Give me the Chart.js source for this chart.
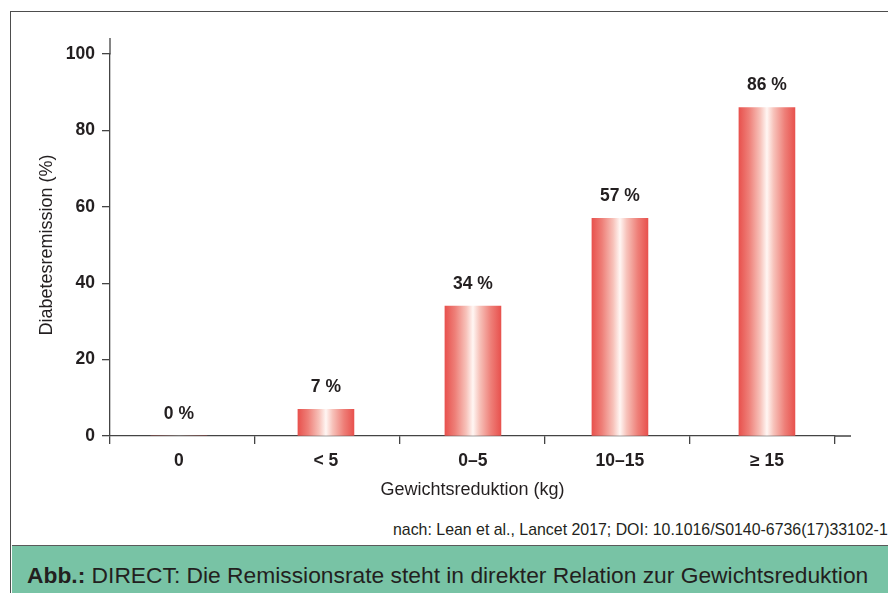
<!DOCTYPE html>
<html lang="de">
<head>
<meta charset="utf-8">
<title>DIRECT: Diabetesremission nach Gewichtsreduktion</title>
<script src="https://cdn.jsdelivr.net/npm/chart.js@4/dist/chart.umd.min.js"></script>
<style>
  html, body { margin: 0; padding: 0; background: #ffffff; overflow: hidden; }
  body { width: 888px; height: 593px; position: relative; font-family: "Liberation Sans", Arial, sans-serif; }
  #frame { position: absolute; left: 10px; top: 11px; width: 900px; height: 600px;
           border-top: 1.5px solid #4d4d4d; border-left: 1.5px solid #4d4d4d; box-sizing: border-box; }
  #band { position: absolute; left: 11.5px; top: 545px; width: 900px; height: 60px;
          background: #78c3a5; border-top: 1.5px solid #5a5a5a; box-sizing: border-box; }
  #source { position: absolute; left: 393px; top: 521.5px; font-size: 15.9px; line-height: 1; color: #231f20; white-space: nowrap; }
  #caption { position: absolute; left: 27px; top: 564px; font-size: 22.8px; line-height: 1; color: #231f20; white-space: nowrap; }
  #caption b { font-weight: bold; }
  #chart { position: absolute; left: 0; top: 0; }
</style>
</head>
<body>
<div id="frame"></div>
<div id="band"></div>
<div id="source">nach: Lean et al., Lancet 2017; DOI: 10.1016/S0140-6736(17)33102-1</div>
<div id="caption"><b>Abb.:</b> DIRECT: Die Remissionsrate steht in direkter Relation zur Gewichtsreduktion</div>
<canvas id="chart" width="888" height="593"></canvas>
<script>
// Weight-loss groups (kg) and the share of patients in remission (%)
const categories = ['0', '< 5', '0–5', '10–15', '≥ 15'];
const remission = [0, 7, 34, 57, 86];
const yTickValues = [0, 20, 40, 60, 80, 100];

const FONT = '"Liberation Sans", Arial, sans-serif';
const INK = '#231f20';
const AXIS = '#444444';
const AXIS_WIDTH = 1.3;
const AXIS_OVERHANG = 16;
const BAR_WIDTH = 56;
const BAR_RED = '#e8524e';

Chart.defaults.font.family = FONT;
Chart.defaults.color = INK;

// Cylinder-like shading: red at the edges, white in the middle
function shade(c, left, right) {
  const g = c.createLinearGradient(left, 0, right, 0);
  g.addColorStop(0.00, BAR_RED);
  g.addColorStop(0.18, '#ee7f78');
  g.addColorStop(0.38, '#f7c2ba');
  g.addColorStop(0.50, '#fff6f3');
  g.addColorStop(0.62, '#f7c2ba');
  g.addColorStop(0.82, '#ee7f78');
  g.addColorStop(1.00, BAR_RED);
  return g;
}

function barGradient(ctx) {
  const chart = ctx.chart;
  const xs = chart.scales.x;
  if (!xs || ctx.type !== 'data') return BAR_RED;
  const cx = xs.getPixelForValue(ctx.dataIndex);
  if (!isFinite(cx)) return BAR_RED;
  return shade(chart.ctx, cx - BAR_WIDTH / 2, cx + BAR_WIDTH / 2);
}

// Percent labels above each bar
const valueLabels = {
  id: 'valueLabels',
  afterDatasetsDraw(chart) {
    const meta = chart.getDatasetMeta(0);
    const c = chart.ctx;
    c.save();
    c.font = 'bold 17.5px ' + FONT;
    c.fillStyle = INK;
    c.textAlign = 'center';
    c.textBaseline = 'middle';
    meta.data.forEach((bar, i) => {
      c.fillText(remission[i] + ' %', bar.x, bar.y - 22);
    });
    c.restore();
  }
};

// Both axis lines run a little past the last tick
const axisOverhang = {
  id: 'axisOverhang',
  afterDraw(chart) {
    const { left, top, right, bottom } = chart.chartArea;
    const c = chart.ctx;
    c.save();
    c.strokeStyle = AXIS;
    c.lineWidth = AXIS_WIDTH;
    c.beginPath();
    c.moveTo(left, top + 0.5);
    c.lineTo(left, top - AXIS_OVERHANG);
    c.moveTo(right - 0.5, bottom);
    c.lineTo(right + AXIS_OVERHANG, bottom);
    c.stroke();
    c.restore();
  }
};

new Chart(document.getElementById('chart'), {
  type: 'bar',
  data: {
    datasets: [{
      data: remission.map((v, i) => ({ x: i, y: v })),
      xAxisID: 'x',
      yAxisID: 'y',
      backgroundColor: barGradient,
      borderWidth: 0,
      barThickness: BAR_WIDTH
    }]
  },
  options: {
    responsive: false,
    animation: false,
    devicePixelRatio: 1,
    layout: { padding: { left: 0, right: 53, top: 54, bottom: 89 } },
    plugins: { legend: { display: false }, tooltip: { enabled: false } },
    scales: {
      y: {
        type: 'linear',
        position: 'left',
        min: 0,
        max: 100,
        afterBuildTicks: s => { s.ticks = yTickValues.map(v => ({ value: v })); },
        afterFit: s => { s.width = 110; },
        ticks: { font: { size: 17.5, weight: 'bold' }, color: INK, padding: 7 },
        grid: { drawOnChartArea: false, drawTicks: true, tickLength: 8, color: AXIS, lineWidth: AXIS_WIDTH },
        border: { display: true, color: AXIS, width: AXIS_WIDTH },
        title: {
          display: true,
          text: 'Diabetesremission (%)',
          font: { size: 18, weight: 'normal' },
          color: INK,
          padding: { top: 36, bottom: 0 }
        }
      },
      // axis line with tick marks between the groups
      xt: {
        type: 'linear',
        position: 'bottom',
        weight: 0,
        offset: false,
        min: 0,
        max: categories.length,
        afterBuildTicks: s => { s.ticks = categories.concat(['']).map((_, i) => ({ value: i })); },
        afterFit: s => { s.height = 8; },
        ticks: { display: false },
        grid: { offset: false, drawOnChartArea: false, drawTicks: true, tickLength: 8, color: AXIS, lineWidth: AXIS_WIDTH },
        border: { display: true, color: AXIS, width: AXIS_WIDTH }
      },
      // group labels and axis title
      x: {
        type: 'linear',
        position: 'bottom',
        weight: 1,
        offset: false,
        min: -0.469,
        max: 4.463,
        afterBuildTicks: s => { s.ticks = categories.map((_, i) => ({ value: i })); },
        afterFit: s => { s.height = 60; },
        ticks: {
          callback: (v, i) => categories[i],
          font: { size: 17.5, weight: 'bold' },
          color: INK,
          padding: 7,
          maxRotation: 0,
          autoSkip: false
        },
        grid: { display: false, drawTicks: false, offset: false },
        border: { display: false },
        title: {
          display: true,
          text: 'Gewichtsreduktion (kg)',
          font: { size: 18, weight: 'normal' },
          color: INK,
          padding: { top: 0, bottom: 3 }
        }
      }
    }
  },
  plugins: [valueLabels, axisOverhang]
});
</script>
</body>
</html>
